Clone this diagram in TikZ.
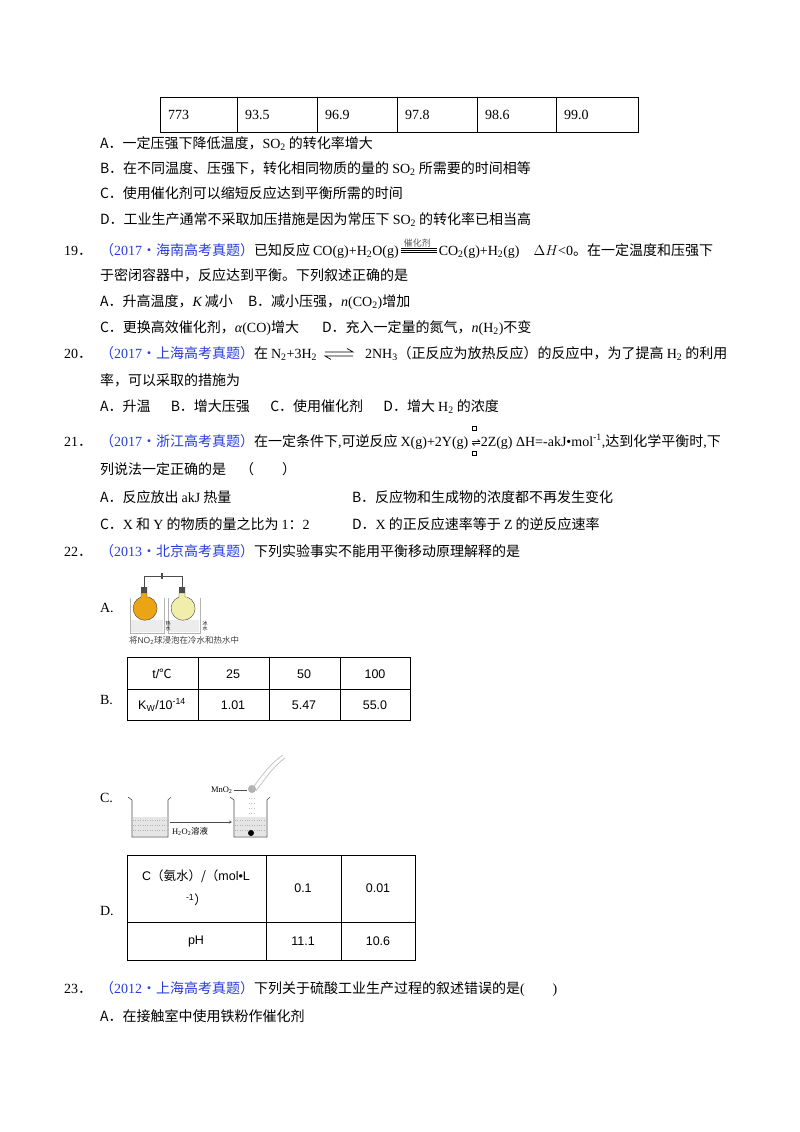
\documentclass[tikz,border=0pt]{standalone}
\usepackage{fontspec}
\setmainfont{Noto Sans CJK SC}
\newfontfamily\lat{Liberation Serif}
\newfontfamily\sans{Liberation Sans}
\newfontfamily\dej{DejaVu Sans}
\definecolor{qblue}{RGB}{40,60,220}
\definecolor{flaskA}{RGB}{235,165,20}
\definecolor{flaskB}{RGB}{240,238,170}
\newcommand{\chsub}[1]{\textsubscript{#1}}
\begin{document}
\begin{tikzpicture}[x=1pt,y=-1pt,
  every node/.style={inner sep=0pt,outer sep=0pt,anchor=base west,font=\fontsize{14}{16}\selectfont},
  tl/.style={draw=black,line width=0.8pt},
  scell/.style={anchor=center,font=\sans\fontsize{12.5}{14}\selectfont},
  ccell/.style={anchor=center,font=\fontsize{12.5}{14}\selectfont}]
\useasboundingbox (0,0) rectangle (800,1132);
\fill[white] (0,0) rectangle (800,1132);
% top table
\draw[tl] (160,97) rectangle (638,132);
\draw[tl] (237,97) -- (237,132) (317,97) -- (317,132) (397,97) -- (397,132) (477,97) -- (477,132) (556,97) -- (556,132);
\foreach \x/\v in {168/773,245/93.5,325/96.9,405/97.8,485/98.6,564/99.0}
  \node[font=\lat\fontsize{14}{16}\selectfont] (t\x) at (\x,119) {\v};
\node (a18) at (100,148) {A．一定压强下降低温度，{\lat SO\chsub2} 的转化率增大};
\node (b18) at (100,173) {B．在不同温度、压强下，转化相同物质的量的 {\lat SO\chsub2} 所需要的时间相等};
\node (c18) at (100,198) {C．使用催化剂可以缩短反应达到平衡所需的时间};
\node (d18) at (100,224) {D．工业生产通常不采取加压措施是因为常压下 {\lat SO\chsub2} 的转化率已相当高};
% 19
\node (n19) at (64,255) {{\lat 19}．};
\node (q19a) at (100,255) {\textcolor{qblue}{（{\lat 2017}·海南高考真题）}已知反应 {\lat CO(g)+H\chsub2O(g)}};
\node[anchor=base west,font=\fontsize{9}{10}\selectfont,text=gray!70!black] (cat) at ([xshift=5pt,yshift=9pt]q19a.base east) {催化剂};
\draw[line width=0.6pt] ([xshift=-3pt,yshift=-1.5pt]cat.south west) -- ++(36,0) ([xshift=-3pt,yshift=-3.5pt]cat.south west) -- ++(36,0) ([xshift=-3pt,yshift=-5.5pt]cat.south west) -- ++(36,0);
\node (q19b) at ([xshift=40pt]q19a.base east) {{\lat CO\chsub2(g)+H\chsub2(g)\quad $\Delta H$<0}。在一定温度和压强下};
\node (q19d) at (100,280) {于密闭容器中，反应达到平衡。下列叙述正确的是};
\node (a19) at (100,306) {A．升高温度，{\lat\itshape K} 减小};
\node (b19) at (248,306) {B．减小压强，{\lat\itshape n}{\lat (CO\chsub2)}增加};
\node (c19) at (100,332) {C．更换高效催化剂，{\lat\itshape α}{\lat (CO)}增大};
\node (d19) at (322,332) {D．充入一定量的氮气，{\lat\itshape n}{\lat (H\chsub2)}不变};
% 20
\node (n20) at (64,358) {{\lat 20}．};
\node (q20a) at (100,358) {\textcolor{qblue}{（{\lat 2017}·上海高考真题）}在 {\lat N\chsub2+3H\chsub2}};
\coordinate (eqL) at ([xshift=8pt,yshift=4pt]q20a.base east);
\draw[line width=0.7pt] ([yshift=2pt]eqL) -- ++(28,0) -- ++(-6,-3.5);
\draw[line width=0.7pt] ([xshift=28pt,yshift=-2pt]eqL) -- ++(-28,0) -- ++(6,3.5);
\node (q20b) at ([xshift=48pt]q20a.base east) {{\lat 2NH\chsub3}（正反应为放热反应）的反应中，为了提高 {\lat H\chsub2} 的利用};
\node (q20d) at (100,385) {率，可以采取的措施为};
\node (a20) at (100,411) {A．升温\quad\ \ B．增大压强\quad\ \ C．使用催化剂\quad\ \ D．增大 {\lat H\chsub2} 的浓度};
% 21
\node (n21) at (64,446) {{\lat 21}．};
\node (q21a) at (100,446) {\textcolor{qblue}{（{\lat 2017}·浙江高考真题）}在一定条件下{\lat ,}可逆反应 {\lat X(g)+2Y(g)}\ \ };
\draw[line width=0.4pt] ([xshift=1pt,yshift=20pt]q21a.base east) rectangle ++(4,4) ([xshift=1pt,yshift=-5pt]q21a.base east) rectangle ++(4,4);
\node (q21b) at (q21a.base east) {{\dej\fontsize{11}{12}\selectfont ⇌}{\lat 2Z(g) ΔH=-akJ•mol\textsuperscript{-1},}达到化学平衡时{\lat ,}下};
\node (q21d) at (100,474) {列说法一定正确的是\quad（\qquad）};
\node (a21) at (100,502) {A．反应放出 {\lat akJ} 热量};
\node (b21) at (352,502) {B．反应物和生成物的浓度都不再发生变化};
\node (c21) at (100,529) {C．{\lat X} 和 {\lat Y} 的物质的量之比为 {\lat 1}：{\lat 2}};
\node (d21) at (352,529) {D．{\lat X} 的正反应速率等于 {\lat Z} 的逆反应速率};
% 22
\node (n22) at (64,556) {{\lat 22}．};
\node (q22) at (100,556) {\textcolor{qblue}{（{\lat 2013}·北京高考真题）}下列实验事实不能用平衡移动原理解释的是};
\node (la) at (100,612) {\lat A.};
% picture A
\draw[gray!60!black,line width=1pt] (144,588) -- (144,576) -- (182,576) -- (182,588);
\draw[gray!60!black,line width=1.2pt] (162,573) -- (162,579);
\fill[gray!60!black] (141,587) rectangle (147,593) (179,587) rectangle (185,593);
\draw[gray!60] (130,598) -- (130,633) -- (164,633) -- (164,598) (168,598) -- (168,633) -- (200,633) -- (200,598);
\fill[gray!15] (131,620) rectangle (163,632) (169,620) rectangle (199,632);
\fill[flaskA,draw=gray!50!black,line width=0.4pt] (141,593) -- (141,597) arc[start angle=250,end angle=-70,radius=12] -- (147,597) -- (147,593) -- cycle;
\fill[flaskB,draw=gray!50!black,line width=0.4pt] (179,593) -- (179,597) arc[start angle=250,end angle=-70,radius=12] -- (185,597) -- (185,593) -- cycle;
\node[font=\fontsize{5}{5.5}\selectfont,align=center,anchor=center] (hw) at (168,626) {热\\水};
\node[font=\fontsize{5}{5.5}\selectfont,align=center,anchor=center] (cw) at (205,626) {冰\\水};
\node[font=\fontsize{8.5}{9}\selectfont,text=gray!50!black] (capA) at (129,643) {将{\sans NO\chsub2}球浸泡在冷水和热水中};
% table B
\node (lb) at (100,704) {\lat B.};
\draw[tl] (127,657) rectangle (410,720);
\draw[tl] (127,689) -- (410,689);
\draw[tl] (198,657) -- (198,720) (269,657) -- (269,720) (340,657) -- (340,720);
\node[ccell] (b1) at (162,674) {{\sans t/}℃};
\node[scell] (b2) at (233,674) {25};
\node[scell] (b3) at (304,674) {50};
\node[scell] (b4) at (375,674) {100};
\node[scell] (b5) at (162,705) {K\textsubscript{W}/10\textsuperscript{-14}};
\node[scell] (b6) at (233,705) {1.01};
\node[scell] (b7) at (304,705) {5.47};
\node[scell] (b8) at (375,705) {55.0};
% picture C
\node (lc) at (100,802) {\lat C.};
\draw[gray!60!black,line width=0.6pt] (128,797) -- (132,800) -- (132,837) -- (168,837) -- (168,800) -- (171,797);
\fill[gray!20] (133,817) rectangle (167,836);
\foreach \y in {820,825,830} \draw[gray!60,dotted] (133,\y) -- (167,\y);
\draw[gray!60!black,line width=0.6pt] (230,797) -- (234,800) -- (234,837) -- (267,837) -- (267,800) -- (270,797);
\fill[gray!20] (235,817) rectangle (266,836);
\foreach \y in {820,825,830} \draw[gray!60,dotted] (235,\y) -- (266,\y);
\fill[black] (251,833) circle (3);
\draw[gray!60!black,->,>=stealth] (170,822) -- (232,822);
\node[font=\fontsize{8.5}{9}\selectfont] (h2o2) at (172,834) {{\lat H\chsub2O\chsub2}溶液};
\node[font=\lat\fontsize{8.5}{9}\selectfont] (mno) at (211,792) {MnO\chsub2};
\draw[gray!60!black] (234,790) -- (247,790);
\fill[gray!60] (252,789) circle (4);
\draw[gray!50,line width=0.7pt] (252,789) .. controls (262,775) and (272,762) .. (283,755);
\draw[gray!50,line width=0.7pt] (256,791) .. controls (266,777) and (276,764) .. (285,758);
\foreach \y in {798,803,808,813} \draw[gray!50,dotted] (249,\y) -- (254,\y);
% table D
\node (ld) at (100,915) {\lat D.};
\draw[tl] (127,855) rectangle (415,960);
\draw[tl] (127,922) -- (415,922);
\draw[tl] (266,855) -- (266,960) (341,855) -- (341,960);
\node[ccell,align=left] (d1) at (196,888) {{\sans C}（氨水）/（{\sans mol•L}\\[10pt]\hspace*{44pt}{\sans\textsuperscript{-1}}）};
\node[scell] (d2) at (303,888) {0.1};
\node[scell] (d3) at (378,888) {0.01};
\node[scell] (d4) at (196,941) {pH};
\node[scell] (d5) at (303,941) {11.1};
\node[scell] (d6) at (378,941) {10.6};
% 23
\node (n23) at (64,993) {{\lat 23}．};
\node (q23) at (100,993) {\textcolor{qblue}{（{\lat 2012}·上海高考真题）}下列关于硫酸工业生产过程的叙述错误的是{\lat (}\qquad{\lat )}};
\node (a23) at (100,1021) {A．在接触室中使用铁粉作催化剂};
\end{tikzpicture}
\end{document}
